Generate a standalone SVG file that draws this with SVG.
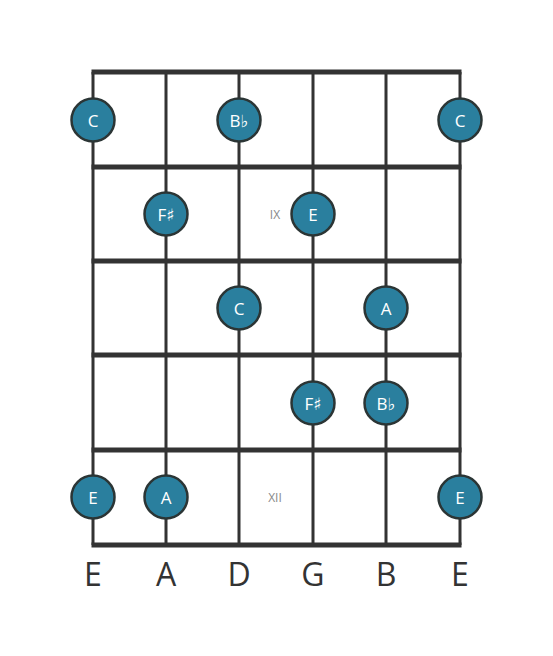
<svg xmlns="http://www.w3.org/2000/svg" width="553" height="656" viewBox="0 0 553 656">
<style>
.fret{stroke:#333;stroke-width:5;}
.str{stroke:#333;stroke-width:3;}
.dot{fill:#2a7f9e;stroke:#2b3535;stroke-width:2.5;}
.nt{font-family:"Open Sans","DejaVu Sans",sans-serif;font-size:17px;fill:#ffffff;text-anchor:middle;dominant-baseline:central;}
.fn{font-family:"Open Sans","DejaVu Sans",sans-serif;font-size:12px;fill:#888;text-anchor:middle;dominant-baseline:central;}
.sn{font-family:"Open Sans","DejaVu Sans",sans-serif;font-size:32px;fill:#333;text-anchor:middle;dominant-baseline:central;}
</style>
<rect width="553" height="656" fill="#ffffff"/>
<g id="connectors">
<line class="str" x1="93" y1="72" x2="93" y2="545"/>
<line class="str" x1="166" y1="72" x2="166" y2="545"/>
<line class="str" x1="239" y1="72" x2="239" y2="545"/>
<line class="str" x1="313" y1="72" x2="313" y2="545"/>
<line class="str" x1="386" y1="72" x2="386" y2="545"/>
<line class="str" x1="460" y1="72" x2="460" y2="545"/>
<line class="fret" x1="91.5" y1="72" x2="461.5" y2="72"/>
<line class="fret" x1="91.5" y1="167" x2="461.5" y2="167"/>
<line class="fret" x1="91.5" y1="261" x2="461.5" y2="261"/>
<line class="fret" x1="91.5" y1="355" x2="461.5" y2="355"/>
<line class="fret" x1="91.5" y1="450" x2="461.5" y2="450"/>
<line class="fret" x1="91.5" y1="545" x2="461.5" y2="545"/>
</g>
<g id="fret-labels">
<text class="fn" x="275" y="214">IX</text>
<text class="fn" x="275" y="497">XII</text>
</g>
<g id="n1"><circle class="dot" cx="93" cy="120" r="21.5"/><text class="nt" x="93" y="120">C</text></g>
<g id="n2"><circle class="dot" cx="239" cy="120" r="21.5"/><text class="nt" x="239" y="120">B♭</text></g>
<g id="n3"><circle class="dot" cx="460" cy="120" r="21.5"/><text class="nt" x="460" y="120">C</text></g>
<g id="n4"><circle class="dot" cx="166" cy="214" r="21.5"/><text class="nt" x="166" y="214">F♯</text></g>
<g id="n5"><circle class="dot" cx="313" cy="214" r="21.5"/><text class="nt" x="313" y="214">E</text></g>
<g id="n6"><circle class="dot" cx="239" cy="308" r="21.5"/><text class="nt" x="239" y="308">C</text></g>
<g id="n7"><circle class="dot" cx="386" cy="308" r="21.5"/><text class="nt" x="386" y="308">A</text></g>
<g id="n8"><circle class="dot" cx="313" cy="403" r="21.5"/><text class="nt" x="313" y="403">F♯</text></g>
<g id="n9"><circle class="dot" cx="386" cy="403" r="21.5"/><text class="nt" x="386" y="403">B♭</text></g>
<g id="n10"><circle class="dot" cx="93" cy="497" r="21.5"/><text class="nt" x="93" y="497">E</text></g>
<g id="n11"><circle class="dot" cx="166" cy="497" r="21.5"/><text class="nt" x="166" y="497">A</text></g>
<g id="n12"><circle class="dot" cx="460" cy="497" r="21.5"/><text class="nt" x="460" y="497">E</text></g>
<g id="string-names">
<text class="sn" x="93" y="573">E</text>
<text class="sn" x="166" y="573">A</text>
<text class="sn" x="239" y="573">D</text>
<text class="sn" x="313" y="573">G</text>
<text class="sn" x="386" y="573">B</text>
<text class="sn" x="460" y="573">E</text>
</g>
</svg>
